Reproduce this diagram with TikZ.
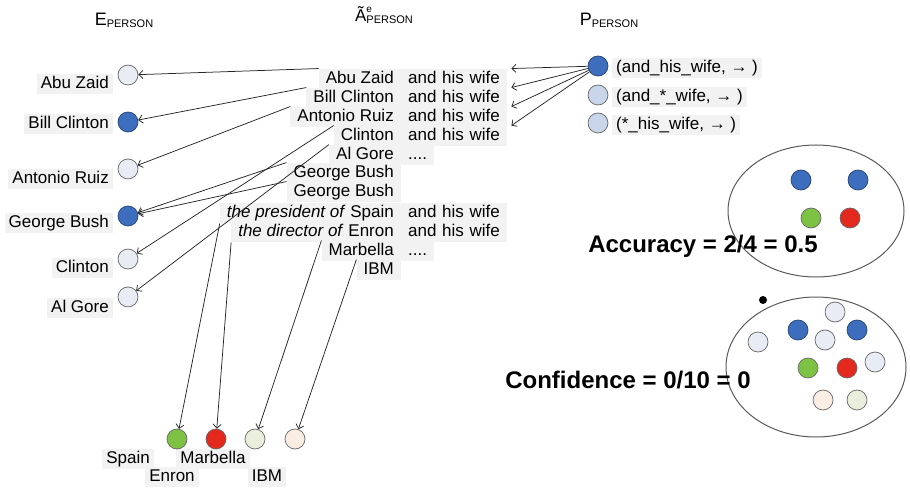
\documentclass[tikz,border=0pt]{standalone}
\usepackage{fontspec}
\setmainfont{Liberation Sans}
\usepackage{xcolor}
\usepackage{tikz}
\usetikzlibrary{arrows.meta}
\definecolor{entblue}{HTML}{3D6EBE}
\definecolor{paleent}{HTML}{E8ECF4}
\definecolor{patblue}{HTML}{C9D5E8}
\definecolor{entgreen}{HTML}{7DC242}
\definecolor{entred}{HTML}{E3281E}
\definecolor{palegreen}{HTML}{E9EEDD}
\definecolor{peach}{HTML}{FAEDE3}
\tikzset{
  ent/.style={circle, draw=black!60, line width=0.7pt, minimum size=20pt, inner sep=0pt},
  lbl/.style={fill=black!5, inner xsep=4pt, inner ysep=2pt, text height=12.5pt, text depth=4pt, font=\fontsize{17}{19}\selectfont},
  mid/.style={lbl, inner xsep=7pt},
  wife/.style={mid, text width=92pt, align=left},
  arr/.style={draw=black!85, line width=0.75pt, -{Straight Barb[length=4pt,width=8pt]}},
  big/.style={font=\bfseries\fontsize{24}{28}\selectfont}
}

\begin{document}
\begin{tikzpicture}[x=1pt,y=-1pt]
\useasboundingbox (0,0) rectangle (910,489);
\node (hE) at (124,20) {\fontsize{18}{20}\selectfont E\raisebox{-2pt}{\fontsize{11}{11}\selectfont PERSON}};
\node (hA) at (384,15) {\fontsize{17}{18}\selectfont Ã\rlap{\raisebox{9pt}{\fontsize{10}{10}\selectfont e}}\raisebox{-2pt}{\fontsize{11}{11}\selectfont PERSON}};
\node (hP) at (609,20) {\fontsize{18}{20}\selectfont P\raisebox{-2pt}{\fontsize{11}{11}\selectfont PERSON}};

\node[ent, fill=paleent] (eAZ) at (128,75) {};
\node[ent, fill=entblue, draw=entblue!60!black] (eBC) at (128,122) {};
\node[ent, fill=paleent] (eAR) at (128,169) {};
\node[ent, fill=entblue, draw=entblue!60!black] (eGB) at (128,216) {};
\node[ent, fill=paleent] (eCL) at (128,259) {};
\node[ent, fill=paleent] (eAG) at (128,297) {};
\node[lbl, anchor=east] (lAZ) at (113,84) {Abu Zaid};
\node[lbl, anchor=east] (lBC) at (113,124) {Bill Clinton};
\node[lbl, anchor=east] (lAR) at (113,179) {Antonio Ruiz};
\node[lbl, anchor=east] (lGB) at (113,223) {George Bush};
\node[lbl, anchor=east] (lCL) at (113,268) {Clinton};
\node[lbl, anchor=east] (lAG) at (113,308) {Al Gore};

\node[mid, anchor=east] (mAZ) at (401,79) {Abu Zaid};
\node[wife, anchor=west] (w1) at (401,79) {and his wife};
\node[mid, anchor=east] (mBC) at (401,98) {Bill Clinton};
\node[wife, anchor=west] (w2) at (401,98) {and his wife};
\node[mid, anchor=east] (mAR) at (401,117) {Antonio Ruiz};
\node[wife, anchor=west] (w3) at (401,117) {and his wife};
\node[mid, anchor=east] (mCL) at (401,136) {Clinton};
\node[wife, anchor=west] (w4) at (401,136) {and his wife};
\node[mid, anchor=east] (mAG) at (401,155) {Al Gore};
\node[mid, anchor=west] (d1) at (401,155) {....};
\node[mid, anchor=east] (mGB1) at (401,173) {George Bush};
\node[mid, anchor=east] (mGB2) at (401,192) {George Bush};
\node[mid, anchor=east] (mPS) at (401,213) {\textit{the president of} Spain};
\node[wife, anchor=west] (w5) at (401,213) {and his wife};
\node[mid, anchor=east] (mDE) at (401,232) {\textit{the director of} Enron};
\node[wife, anchor=west] (w6) at (401,232) {and his wife};
\node[mid, anchor=east] (mMB) at (401,251) {Marbella};
\node[mid, anchor=west] (d2) at (401,251) {....};
\node[mid, anchor=east] (mIBM) at (401,270) {IBM};

\node[ent, fill=entblue, draw=entblue!60!black] (p1) at (598,66) {};
\node[ent, fill=patblue] (p2) at (598,95) {};
\node[ent, fill=patblue] (p3) at (598,123) {};
\node[lbl, anchor=west] (lp1) at (612,68) {(and\_his\_wife, → )};
\node[lbl, anchor=west] (lp2) at (612,97) {(and\_*\_wife, → )};
\node[lbl, anchor=west] (lp3) at (612,125) {(*\_his\_wife, → )};

\node[lbl] (lSP) at (128,459) {Spain};
\node[lbl] (lMB) at (213,459) {Marbella};
\node[lbl] (lEN) at (172,477) {Enron};
\node[lbl] (lIBM) at (267,477) {IBM};
\node[ent, fill=entgreen] (bSP) at (177,439) {};
\node[ent, fill=entred] (bEN) at (216,439) {};
\node[ent, fill=palegreen] (bMB) at (255,439) {};
\node[ent, fill=peach] (bIBM) at (295,439) {};

\draw[arr] (mAZ.north west) -- (eAZ);
\draw[arr] (mBC.north west) -- (eBC);
\draw[arr] (mAR.north west) -- (eAR);
\draw[arr] (mCL.north west) -- (eCL);
\draw[arr] (mAG.north west) -- (eAG);
\draw[arr] (mGB1.north west) -- (eGB);
\draw[arr] (mGB2.north west) -- (eGB);
\draw[arr] (mPS.south west) -- (bSP);
\draw[arr] (mDE.south west) -- (bEN);
\draw[arr] (mMB.north west) -- (bMB);
\draw[arr] (mIBM.north west) -- (bIBM);
\draw[arr] (p1) -- ([xshift=4pt]w1.north east);
\draw[arr] (p1) -- ([xshift=4pt]w2.north east);
\draw[arr] (p1) -- ([xshift=4pt]w3.north east);
\draw[arr] (p1) -- ([xshift=4pt]w4.north east);

\draw[black!65, line width=1pt] (816,211) ellipse [x radius=88, y radius=66];
\node[ent, fill=entblue, draw=entblue!60!black] (a1) at (801,180) {};
\node[ent, fill=entblue, draw=entblue!60!black] (a2) at (858,180) {};
\node[ent, fill=entgreen] (a3) at (811,218) {};
\node[ent, fill=entred] (a4) at (850,218) {};
\node[big] (acc) at (703,246) {Accuracy = 2/4 = 0.5};

\draw[black!65, line width=1pt] (816,367) ellipse [x radius=90, y radius=70];
\node[circle, fill=black, inner sep=0pt, minimum size=8pt] (pt) at (763,300) {};
\node[ent, fill=paleent] (c1) at (835,312) {};
\node[ent, fill=entblue, draw=entblue!60!black] (c2) at (798,330) {};
\node[ent, fill=entblue, draw=entblue!60!black] (c3) at (857,330) {};
\node[ent, fill=paleent] (c4) at (758,342) {};
\node[ent, fill=paleent] (c5) at (825,340) {};
\node[ent, fill=entgreen] (c6) at (808,368) {};
\node[ent, fill=entred] (c7) at (847,368) {};
\node[ent, fill=paleent] (c8) at (875,362) {};
\node[ent, fill=peach] (c9) at (823,400) {};
\node[ent, fill=palegreen] (c10) at (857,400) {};
\node[big] (conf) at (628,380) {Confidence = 0/10 = 0};
\end{tikzpicture}
\end{document}
